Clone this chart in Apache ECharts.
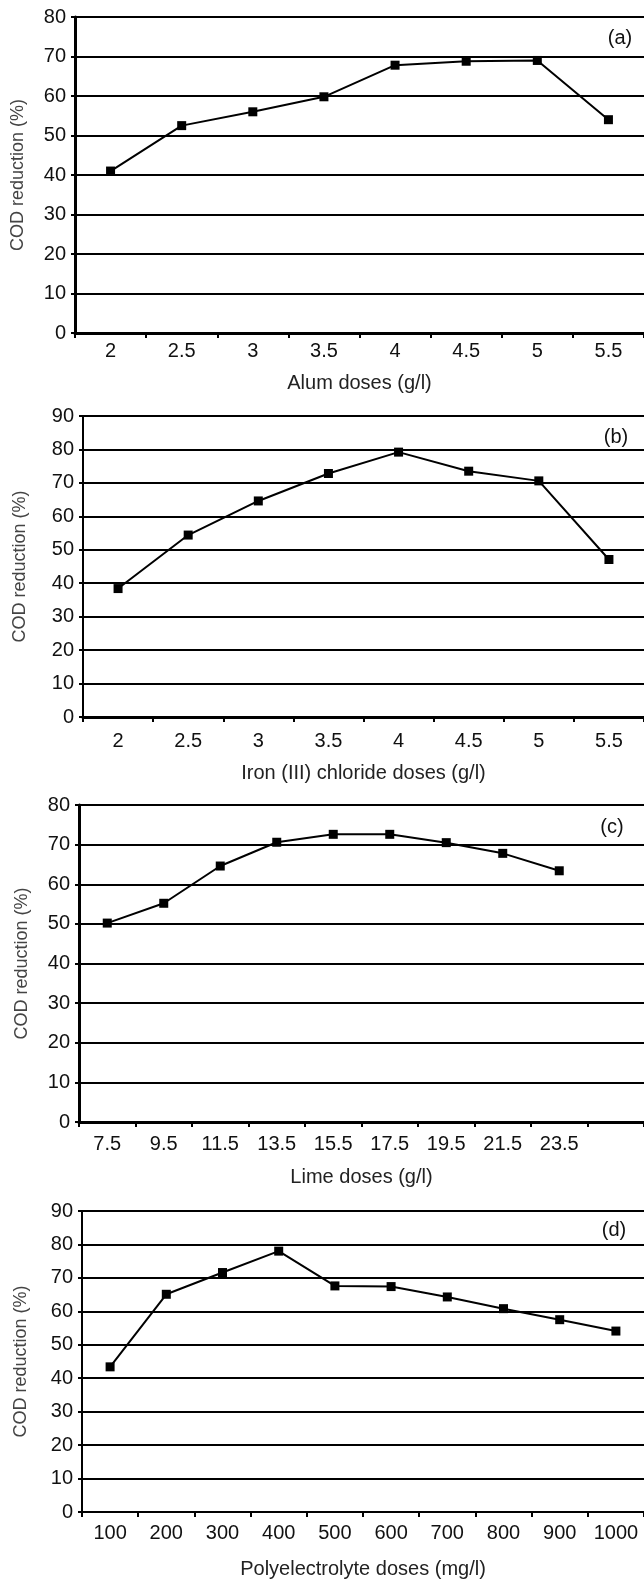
<!DOCTYPE html>
<html>
<head>
<meta charset="utf-8">
<script src="https://cdn.jsdelivr.net/npm/echarts@6/dist/echarts.min.js"></script>
<style>
  html, body { margin: 0; padding: 0; background: #fff; }
  #chart { width: 644px; height: 1580px; }
</style>
</head>
<body>
<div id="chart"></div>
<script>
// doses (x categories) and COD reduction (%)
const alumDoses = ['2', '2.5', '3', '3.5', '4', '4.5', '5', '5.5'];
const alumCod = [41, 52.5, 56, 59.8, 67.8, 68.8, 69, 54];

const ironDoses = ['2', '2.5', '3', '3.5', '4', '4.5', '5', '5.5'];
const ironCod = [38.4, 54.4, 64.6, 72.8, 79.2, 73.5, 70.6, 47.1];

const limeDoses = ['7.5', '9.5', '11.5', '13.5', '15.5', '17.5', '19.5', '21.5', '23.5', ''];
const limeCod = [50.2, 55.2, 64.6, 70.6, 72.6, 72.6, 70.5, 67.8, 63.4];

const polyDoses = ['100', '200', '300', '400', '500', '600', '700', '800', '900', '1000'];
const polyCod = [43.4, 65.1, 71.6, 78, 67.6, 67.4, 64.3, 60.8, 57.5, 54.1];

const yMax = [80, 90, 80, 90];
const panelTags = ['(a)', '(b)', '(c)', '(d)'];
const xNames = ['Alum doses (g/l)', 'Iron (III) chloride doses (g/l)', 'Lime doses (g/l)', 'Polyelectrolyte doses (mg/l)'];
const yName = 'COD reduction (%)';

const FONT = '"Liberation Sans", Arial, Helvetica, sans-serif';

// where each panel sits on the page
const panels = [
  { cats: alumDoses, vals: alumCod, grid: { left: 75, top: 17, width: 576, height: 316 }, yAxisW: 3, xAxisW: 3, labelGap: 8, nameGap: 40, yNameGap: 48, tag: [620, 38] },
  { cats: ironDoses, vals: ironCod, grid: { left: 83, top: 416, width: 576, height: 301 }, yAxisW: 2, xAxisW: 3, labelGap: 14, nameGap: 46, yNameGap: 54, tag: [616, 437] },
  { cats: limeDoses, vals: limeCod, grid: { left: 79, top: 805, width: 585, height: 317 }, yAxisW: 3, xAxisW: 3, labelGap: 12, nameGap: 45, yNameGap: 48, tag: [612, 827] },
  { cats: polyDoses, vals: polyCod, grid: { left: 82, top: 1211, width: 563, height: 301 }, yAxisW: 2, xAxisW: 2, labelGap: 11, nameGap: 47, yNameGap: 52, tag: [614, 1230] }
];

const grids = [], xAxes = [], yAxes = [], series = [], graphics = [];

panels.forEach((p, i) => {
  grids.push(Object.assign({ containLabel: false }, p.grid));

  xAxes.push({
    type: 'category',
    gridIndex: i,
    data: p.cats,
    boundaryGap: true,
    name: xNames[i],
    nameLocation: 'middle',
    nameGap: p.nameGap,
    nameTextStyle: { fontFamily: FONT, fontSize: 20, color: '#222' },
    axisLine: { show: true, onZero: false, lineStyle: { color: '#000', width: p.xAxisW } },
    axisTick: { show: true, length: 5, lineStyle: { color: '#000', width: 2 } },
    axisLabel: { fontFamily: FONT, fontSize: 20, color: '#111', margin: p.labelGap, interval: 0 },
    splitLine: { show: false }
  });

  yAxes.push({
    type: 'value',
    gridIndex: i,
    min: 0,
    max: yMax[i],
    interval: 10,
    name: yName,
    nameLocation: 'middle',
    nameRotate: 90,
    nameGap: p.yNameGap,
    nameTextStyle: { fontFamily: FONT, fontSize: 18, color: '#444' },
    axisLine: { show: true, lineStyle: { color: '#000', width: p.yAxisW } },
    axisTick: { show: true, length: 4, lineStyle: { color: '#000', width: 2 } },
    axisLabel: { fontFamily: FONT, fontSize: 20, color: '#111', margin: 9 },
    splitLine: { show: true, lineStyle: { color: '#000', width: 2 } }
  });

  series.push({
    type: 'line',
    xAxisIndex: i,
    yAxisIndex: i,
    data: p.vals,
    symbol: 'rect',
    symbolSize: 9,
    showAllSymbol: true,
    lineStyle: { color: '#000', width: 2 },
    itemStyle: { color: '#000' },
    animation: false,
    z: 3
  });

  graphics.push({
    type: 'text',
    x: p.tag[0],
    y: p.tag[1],
    style: {
      text: panelTags[i],
      font: '20px ' + FONT,
      fill: '#111',
      align: 'center',
      verticalAlign: 'middle'
    }
  });
});

const chart = echarts.init(document.getElementById('chart'), null, { renderer: 'canvas' });
chart.setOption({
  backgroundColor: '#fff',
  animation: false,
  grid: grids,
  xAxis: xAxes,
  yAxis: yAxes,
  series: series,
  graphic: graphics
});
</script>
</body>
</html>
